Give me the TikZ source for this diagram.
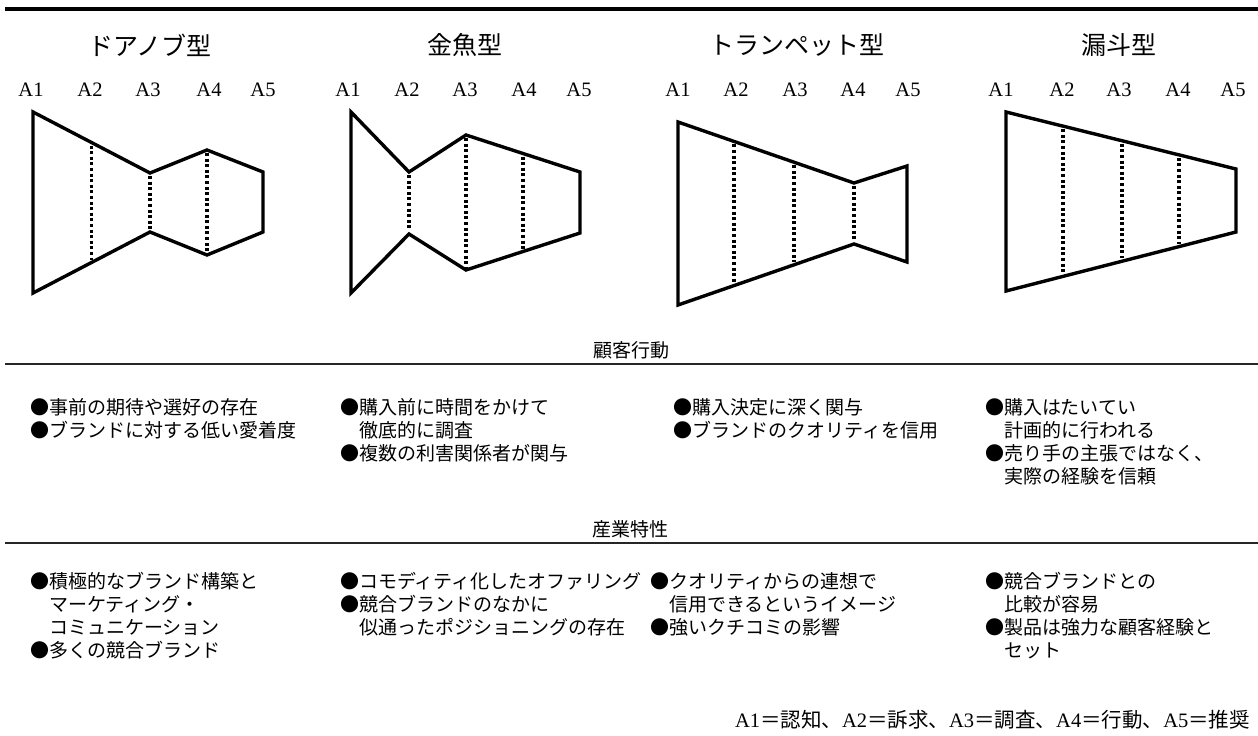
\documentclass[tikz,border=0pt]{standalone}
\usepackage{fontspec}
\setmainfont{Liberation Serif}
\newfontfamily\cjk{Noto Sans CJK JP}
\usetikzlibrary{calc}
\tikzset{
  shapeline/.style={line width=3.4pt, line join=miter},
  dotline/.style={line width=3.3pt, dash pattern=on 3pt off 2.6pt, shorten <=3pt, shorten >=3pt},
  ttl/.style={font=\cjk\fontsize{25}{28}\selectfont, inner sep=0},
  alabel/.style={font=\fontsize{20.5}{24}\selectfont, inner sep=0},
  body/.style={font=\cjk\fontsize{19}{23}\selectfont, anchor=base west, inner sep=0},
  header/.style={font=\cjk\fontsize{19}{23}\selectfont, inner sep=0},
  rulethin/.style={line width=1.3pt, draw=black!85},
  rulethick/.style={line width=4.5pt},
}
\begin{document}
\begin{tikzpicture}[x=1pt,y=-1pt]
\fill[white] (0,0) rectangle (1258,736);
\useasboundingbox (0,0) rectangle (1258,736);
% top rule
\draw[rulethick] (5,9) -- (1258,9);
% titles
\node[ttl] (t1) at (150,45) {ドアノブ型};
\node[ttl] (t2) at (465,45) {金魚型};
\node[ttl] (t3) at (797,45) {トランペット型};
\node[ttl] (t4) at (1119,45) {漏斗型};
% A labels
\foreach \x [count=\i] in {31,90,148,209,263} \node[alabel] (da\i) at (\x,90) {A\i};
\foreach \x [count=\i] in {348,407,465,524,579} \node[alabel] (ga\i) at (\x,90) {A\i};
\foreach \x [count=\i] in {678,736,795,853,908} \node[alabel] (ta\i) at (\x,90) {A\i};
\foreach \x [count=\i] in {1001,1062,1119,1178,1233} \node[alabel] (fa\i) at (\x,90) {A\i};
% doorknob
\coordinate (d1t) at (33,112); \coordinate (d1b) at (33,293);
\coordinate (d3t) at (150,173); \coordinate (d3b) at (150,232);
\coordinate (d4t) at (207,150); \coordinate (d4b) at (207,255);
\coordinate (d5t) at (263,172); \coordinate (d5b) at (263,232);
\draw[shapeline] (d1t) -- (d3t) -- (d4t) -- (d5t) -- (d5b) -- (d4b) -- (d3b) -- (d1b) -- cycle;
\draw[dotline] ($(d1t)!0.5!(d3t)$) -- ($(d1b)!0.5!(d3b)$);
\draw[dotline] (d3t) -- (d3b);
\draw[dotline] (d4t) -- (d4b);
% goldfish
\coordinate (g1t) at (351,112); \coordinate (g1b) at (351,293);
\coordinate (g2t) at (409,172); \coordinate (g2b) at (409,234);
\coordinate (g3t) at (466,135); \coordinate (g3b) at (466,270);
\coordinate (g5t) at (580,172); \coordinate (g5b) at (580,233);
\draw[shapeline] (g1t) -- (g2t) -- (g3t) -- (g5t) -- (g5b) -- (g3b) -- (g2b) -- (g1b) -- cycle;
\draw[dotline] (g2t) -- (g2b);
\draw[dotline] (g3t) -- (g3b);
\draw[dotline] ($(g3t)!0.5!(g5t)$) -- ($(g3b)!0.5!(g5b)$);
% trumpet
\coordinate (p1t) at (678,122); \coordinate (p1b) at (678,305);
\coordinate (p4t) at (854,183); \coordinate (p4b) at (854,244);
\coordinate (p5t) at (907,166); \coordinate (p5b) at (907,262);
\draw[shapeline] (p1t) -- (p4t) -- (p5t) -- (p5b) -- (p4b) -- (p1b) -- cycle;
\draw[dotline] ($(p1t)!0.318!(p4t)$) -- ($(p1b)!0.318!(p4b)$);
\draw[dotline] ($(p1t)!0.659!(p4t)$) -- ($(p1b)!0.659!(p4b)$);
\draw[dotline] (p4t) -- (p4b);
% funnel
\coordinate (f1t) at (1006,112); \coordinate (f1b) at (1006,291);
\coordinate (f5t) at (1236,169); \coordinate (f5b) at (1236,232);
\draw[shapeline] (f1t) -- (f5t) -- (f5b) -- (f1b) -- cycle;
\foreach \f in {0.248,0.504,0.752}
  \draw[dotline] ($(f1t)!\f!(f5t)$) -- ($(f1b)!\f!(f5b)$);
% section 1
\node[header] (h1) at (631,350) {顧客行動};
\draw[rulethin] (5,364) -- (1258,364);
\foreach \t [count=\i] in {{●事前の期待や選好の存在},{●ブランドに対する低い愛着度}}
  \node[body] (ua\i) at (30,{414+23*(\i-1)}) {\t};
\foreach \t [count=\i] in {{●購入前に時間をかけて},{\hspace{1em}徹底的に調査},{●複数の利害関係者が関与}}
  \node[body] (ub\i) at (340,{414+23*(\i-1)}) {\t};
\foreach \t [count=\i] in {{●購入決定に深く関与},{●ブランドのクオリティを信用}}
  \node[body] (uc\i) at (673,{414+23*(\i-1)}) {\t};
\foreach \t [count=\i] in {{●購入はたいてい},{\hspace{1em}計画的に行われる},{●売り手の主張ではなく、},{\hspace{1em}実際の経験を信頼}}
  \node[body] (ud\i) at (985,{414+23*(\i-1)}) {\t};
% section 2
\node[header] (h2) at (630,529) {産業特性};
\draw[rulethin] (5,543) -- (1258,543);
\foreach \t [count=\i] in {{●積極的なブランド構築と},{\hspace{1em}マーケティング・},{\hspace{1em}コミュニケーション},{●多くの競合ブランド}}
  \node[body] (la\i) at (30,{588+23*(\i-1)}) {\t};
\foreach \t [count=\i] in {{●コモディティ化したオファリング},{●競合ブランドのなかに},{\hspace{1em}似通ったポジショニングの存在}}
  \node[body] (lb\i) at (340,{588+23*(\i-1)}) {\t};
\foreach \t [count=\i] in {{●クオリティからの連想で},{\hspace{1em}信用できるというイメージ},{●強いクチコミの影響}}
  \node[body] (lc\i) at (650,{588+23*(\i-1)}) {\t};
\foreach \t [count=\i] in {{●競合ブランドとの},{\hspace{1em}比較が容易},{●製品は強力な顧客経験と},{\hspace{1em}セット}}
  \node[body] (ld\i) at (985,{588+23*(\i-1)}) {\t};
% footnote
\node[font=\fontsize{20.5}{24}\selectfont, anchor=base east, inner sep=0] (fn) at (1250,727)
  {A1{\cjk ＝認知、}A2{\cjk ＝訴求、}A3{\cjk ＝調査、}A4{\cjk ＝行動、}A5{\cjk ＝推奨}};
\end{tikzpicture}
\end{document}
